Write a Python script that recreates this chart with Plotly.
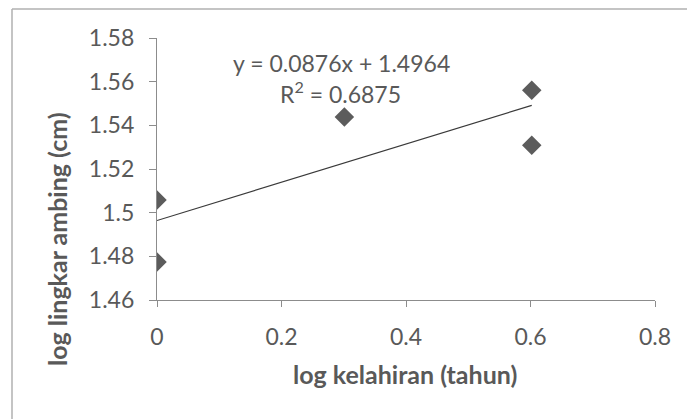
import plotly.graph_objects as go

# Data
log_kelahiran = [0.0, 0.0, 0.301, 0.602, 0.602]
log_lingkar = [1.5058, 1.4774, 1.5438, 1.5561, 1.5309]
slope = 0.0876
intercept = 1.4964
r_squared = 0.6875
x_ticks = [0, 0.2, 0.4, 0.6, 0.8]
x_tick_labels = ["0", "0.2", "0.4", "0.6", "0.8"]
y_ticks = [1.46, 1.48, 1.50, 1.52, 1.54, 1.56, 1.58]
y_tick_labels = ["1.46", "1.48", "1.5", "1.52", "1.54", "1.56", "1.58"]
x_title = "log kelahiran (tahun)"
y_title = "log lingkar ambing (cm)"

trend_x = [min(log_kelahiran), max(log_kelahiran)]
trend_y = [slope * v + intercept for v in trend_x]

FONT = "Lato"
TXT = "#595959"
AX = "#8c8c8c"
W, H = 687, 411
L, R, T, B = 149, 40, 30, 119
PW, PH = W - L - R, H - T - B

fig = go.Figure()
fig.add_trace(go.Scatter(
    x=trend_x, y=trend_y, mode="lines",
    line=dict(color="#3a3a3a", width=1.2), showlegend=False, hoverinfo="skip"))
fig.add_trace(go.Scatter(
    x=log_kelahiran, y=log_lingkar, mode="markers",
    marker=dict(symbol="diamond", size=15, color="#5c5c5c",
                line=dict(width=0)),
    showlegend=False))

fig.update_layout(
    width=W, height=H, autosize=False,
    margin=dict(l=L, r=R, t=T, b=B),
    paper_bgcolor="white", plot_bgcolor="white",
    font=dict(family=FONT, color=TXT, size=23),
    xaxis=dict(range=[0, 0.8], tickvals=x_ticks, ticktext=x_tick_labels,
               showgrid=False, zeroline=False, showline=True,
               linecolor=AX, linewidth=1.2, ticks="outside", ticklen=6,
               tickcolor=AX, tickfont=dict(size=23, color=TXT),
               ticklabelstandoff=10, automargin=False),
    yaxis=dict(range=[1.46, 1.58], tickvals=y_ticks, ticktext=y_tick_labels,
               showgrid=False, zeroline=False, showline=True,
               linecolor=AX, linewidth=1.2, ticks="outside", ticklen=7,
               tickcolor=AX, tickfont=dict(size=23, color=TXT),
               ticklabelstandoff=10, automargin=False),
)

# equation and R^2 (trendline label)
fig.add_annotation(
    x=0.297, y=1.5687, xref="x", yref="y", showarrow=False,
    xanchor="center", yanchor="middle",
    text=f"y = {slope}x + {intercept}",
    font=dict(family=FONT, size=23, color=TXT))
fig.add_annotation(
    x=0.294, y=1.5552, xref="x", yref="y", showarrow=False,
    xanchor="center", yanchor="middle",
    text=f"R<sup>2</sup> = {r_squared}",
    font=dict(family=FONT, size=23, color=TXT))

# axis titles
fig.add_annotation(
    x=(397 - L) / PW, y=1 - (366 - T) / PH, xref="paper", yref="paper",
    showarrow=False, xanchor="center", yanchor="middle",
    text=f"<b>{x_title}</b>", font=dict(family=FONT, size=25, color=TXT))
fig.add_annotation(
    x=(49 - L) / PW, y=1 - (231 - T) / PH, xref="paper", yref="paper",
    showarrow=False, xanchor="center", yanchor="middle", textangle=-90,
    text=f"<b>{y_title}</b>", font=dict(family=FONT, size=25, color=TXT))

# outer chart border (left and top visible)
bx = (4 - L) / PW
by = 1 + (T - 1) / PH
fig.add_shape(type="line", xref="paper", yref="paper",
              x0=bx, x1=bx, y0=-2, y1=by,
              line=dict(color="#b0b0b0", width=1.5))
fig.add_shape(type="line", xref="paper", yref="paper",
              x0=bx, x1=2, y0=by, y1=by,
              line=dict(color="#b0b0b0", width=1.5))

fig.write_html("out.html")
